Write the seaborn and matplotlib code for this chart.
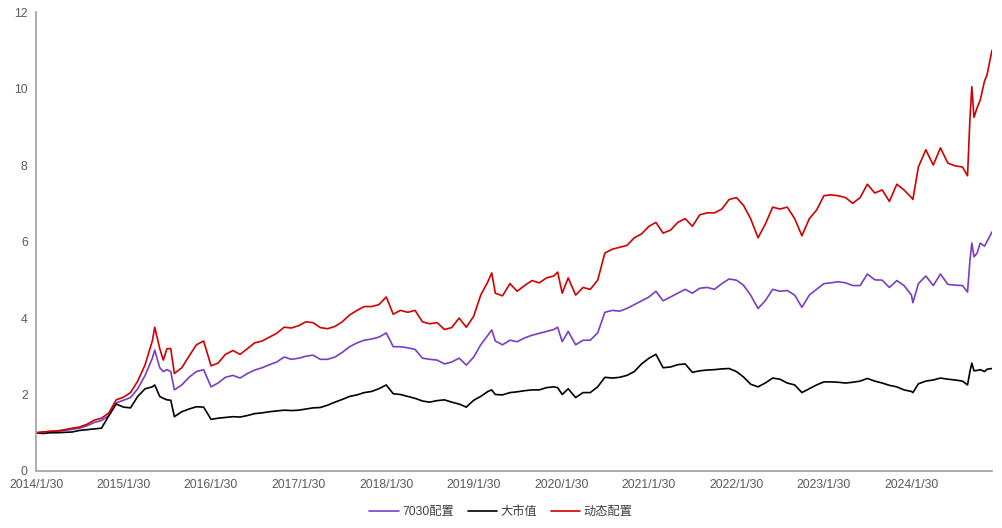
import pandas as pd
import matplotlib
matplotlib.use("Agg")
import matplotlib.pyplot as plt
import seaborn as sns

dates = [
    "2014-01-30", "2014-02-28", "2014-03-30", "2014-04-30", "2014-05-30", "2014-06-30",
    "2014-07-30", "2014-08-30", "2014-09-30", "2014-10-30", "2014-11-30", "2014-12-30",
    "2015-01-30", "2015-02-28", "2015-03-30", "2015-04-30", "2015-05-30", "2015-06-09",
    "2015-06-30", "2015-07-15", "2015-07-30", "2015-08-15", "2015-08-30", "2015-09-30",
    "2015-10-30", "2015-11-30", "2015-12-30",
    "2016-01-30", "2016-02-28", "2016-03-30", "2016-04-30", "2016-05-30", "2016-06-30",
    "2016-07-30", "2016-08-30", "2016-09-30", "2016-10-30", "2016-11-30", "2016-12-30",
    "2017-01-30", "2017-02-28", "2017-03-30", "2017-04-30", "2017-05-30", "2017-06-30",
    "2017-07-30", "2017-08-30", "2017-09-30", "2017-10-30", "2017-11-30", "2017-12-30",
    "2018-01-30", "2018-02-28", "2018-03-30", "2018-04-30", "2018-05-30", "2018-06-30",
    "2018-07-30", "2018-08-30", "2018-09-30", "2018-10-30", "2018-11-30", "2018-12-30",
    "2019-01-30", "2019-02-28", "2019-03-30", "2019-04-15", "2019-04-30", "2019-05-30",
    "2019-06-30", "2019-07-30", "2019-08-30", "2019-09-30", "2019-10-30", "2019-11-30",
    "2019-12-30",
    "2020-01-15", "2020-02-03", "2020-02-28", "2020-03-30", "2020-04-30", "2020-05-30",
    "2020-06-30", "2020-07-30", "2020-08-30", "2020-09-30", "2020-10-30", "2020-11-30",
    "2020-12-30",
    "2021-01-30", "2021-02-28", "2021-03-30", "2021-04-30", "2021-05-30", "2021-06-30",
    "2021-07-30", "2021-08-30", "2021-09-30", "2021-10-30", "2021-11-30", "2021-12-30",
    "2022-01-30", "2022-02-28", "2022-03-30", "2022-04-30", "2022-05-30", "2022-06-30",
    "2022-07-30", "2022-08-30", "2022-09-30", "2022-10-30", "2022-11-30", "2022-12-30",
    "2023-01-30", "2023-02-28", "2023-03-30", "2023-04-30", "2023-05-30", "2023-06-30",
    "2023-07-30", "2023-08-30", "2023-09-30", "2023-10-30", "2023-11-30", "2023-12-30",
    "2024-01-30", "2024-02-05", "2024-02-28", "2024-03-30", "2024-04-30", "2024-05-30",
    "2024-06-30", "2024-07-30", "2024-08-30", "2024-09-20", "2024-09-30", "2024-10-08",
    "2024-10-17", "2024-10-30", "2024-11-12", "2024-11-30", "2024-12-10", "2024-12-31",
]

dynamic = [
    1.00, 1.02, 1.04, 1.05, 1.08, 1.12, 1.15, 1.22, 1.33, 1.38, 1.52, 1.86,
    1.93, 2.05, 2.35, 2.78, 3.40, 3.76, 3.20, 2.90, 3.20, 3.20, 2.55, 2.70,
    3.00, 3.30, 3.40,
    2.75, 2.82, 3.05, 3.15, 3.05, 3.20, 3.35, 3.40, 3.50, 3.60, 3.76, 3.74,
    3.80, 3.90, 3.88, 3.75, 3.72, 3.78, 3.90, 4.08, 4.20, 4.30, 4.30, 4.35,
    4.55, 4.10, 4.20, 4.15, 4.20, 3.90, 3.85, 3.88, 3.70, 3.75, 4.00, 3.76,
    4.05, 4.60, 4.95, 5.18, 4.65, 4.58, 4.90, 4.70, 4.85, 4.98, 4.92, 5.05,
    5.10,
    5.20, 4.65, 5.05, 4.60, 4.80, 4.75, 4.99, 5.70, 5.80, 5.85, 5.90, 6.10,
    6.20,
    6.40, 6.50, 6.22, 6.30, 6.50, 6.60, 6.40, 6.70, 6.75, 6.75, 6.85, 7.10,
    7.15, 6.95, 6.60, 6.10, 6.45, 6.90, 6.85, 6.90, 6.60, 6.15, 6.60, 6.82,
    7.20, 7.22, 7.20, 7.15, 7.00, 7.15, 7.50, 7.27, 7.35, 7.05, 7.50, 7.35,
    7.15, 7.10, 7.95, 8.40, 8.00, 8.45, 8.05, 7.98, 7.95, 7.72, 9.20, 10.05,
    9.25, 9.50, 9.70, 10.20, 10.35, 11.00,
]

mix_7030 = [
    1.00, 1.02, 1.03, 1.04, 1.06, 1.09, 1.12, 1.18, 1.27, 1.32, 1.45, 1.78,
    1.85, 1.92, 2.15, 2.50, 2.95, 3.16, 2.70, 2.60, 2.65, 2.60, 2.12, 2.25,
    2.45, 2.60, 2.65,
    2.20, 2.30, 2.45, 2.50, 2.43, 2.55, 2.64, 2.70, 2.78, 2.85, 2.98, 2.92,
    2.95, 3.00, 3.03, 2.92, 2.92, 2.98, 3.10, 3.25, 3.35, 3.42, 3.45, 3.50,
    3.61, 3.25, 3.25, 3.22, 3.18, 2.95, 2.92, 2.90, 2.80, 2.85, 2.95, 2.77,
    2.98, 3.30, 3.55, 3.69, 3.40, 3.30, 3.42, 3.38, 3.48, 3.55, 3.60, 3.65,
    3.70,
    3.76, 3.38, 3.65, 3.30, 3.42, 3.42, 3.61, 4.15, 4.20, 4.18, 4.25, 4.35,
    4.45,
    4.55, 4.70, 4.45, 4.55, 4.65, 4.75, 4.65, 4.78, 4.80, 4.75, 4.90, 5.02,
    4.99, 4.86, 4.60, 4.25, 4.45, 4.75, 4.70, 4.72, 4.60, 4.28, 4.60, 4.75,
    4.90, 4.92, 4.95, 4.92, 4.85, 4.85, 5.15, 5.00, 4.99, 4.80, 4.98, 4.85,
    4.60, 4.40, 4.90, 5.10, 4.85, 5.15, 4.88, 4.86, 4.85, 4.68, 5.50, 5.96,
    5.60, 5.70, 5.96, 5.88, 6.00, 6.25,
]

large_cap = [
    1.00, 0.98, 1.00, 1.00, 1.01, 1.02, 1.06, 1.08, 1.10, 1.12, 1.45, 1.75,
    1.67, 1.65, 1.95, 2.15, 2.20, 2.25, 1.95, 1.90, 1.86, 1.85, 1.42, 1.55,
    1.62, 1.68, 1.67,
    1.35, 1.38, 1.40, 1.42, 1.41, 1.45, 1.50, 1.52, 1.55, 1.57, 1.59, 1.58,
    1.59, 1.62, 1.65, 1.66, 1.72, 1.80, 1.87, 1.95, 1.99, 2.05, 2.08, 2.15,
    2.25, 2.02, 2.00, 1.95, 1.90, 1.83, 1.80, 1.84, 1.86, 1.80, 1.75, 1.67,
    1.85, 1.95, 2.08, 2.12, 2.00, 1.99, 2.05, 2.07, 2.10, 2.12, 2.12, 2.18,
    2.20,
    2.18, 2.00, 2.15, 1.92, 2.05, 2.05, 2.20, 2.45, 2.43, 2.45, 2.50, 2.60,
    2.80,
    2.95, 3.05, 2.70, 2.72, 2.78, 2.80, 2.58, 2.62, 2.64, 2.65, 2.67, 2.68,
    2.60, 2.46, 2.27, 2.20, 2.30, 2.43, 2.40, 2.30, 2.25, 2.05, 2.15, 2.25,
    2.33, 2.33, 2.32, 2.30, 2.32, 2.35, 2.42, 2.35, 2.30, 2.24, 2.20, 2.12,
    2.08, 2.05, 2.28, 2.35, 2.38, 2.43, 2.40, 2.38, 2.35, 2.25, 2.60, 2.82,
    2.62, 2.63, 2.65, 2.60, 2.66, 2.68,
]

series_names = ["7030配置", "大市值", "动态配置"]
series_colors = ["#7A3DC2", "#000000", "#D00000"]
tick_labels = ["2014/1/30", "2015/1/30", "2016/1/30", "2017/1/30", "2018/1/30", "2019/1/30",
               "2020/1/30", "2021/1/30", "2022/1/30", "2023/1/30", "2024/1/30"]

df = pd.DataFrame({
    "date": pd.to_datetime(dates),
    "7030配置": mix_7030,
    "大市值": large_cap,
    "动态配置": dynamic,
})
long_df = df.melt(id_vars="date", var_name="series", value_name="value")

sns.set_style("white")
plt.rcParams["font.family"] = ["Liberation Sans", "Noto Sans CJK SC", "DejaVu Sans"]

fig = plt.figure(figsize=(10.02, 5.28), dpi=100)
ax = fig.add_axes([0.036, 0.108, 0.954, 0.869])

sns.lineplot(data=long_df, x="date", y="value", hue="series", hue_order=series_names,
             palette=series_colors, linewidth=1.2, ax=ax)

ax.set_ylim(0, 12)
ax.set_yticks(range(0, 13, 2))
ax.set_xlim(pd.Timestamp("2014-01-30"), pd.Timestamp("2024-12-31"))
ax.set_xticks(pd.to_datetime(tick_labels, format="%Y/%m/%d"))
ax.set_xticklabels(tick_labels)
ax.set_xlabel("")
ax.set_ylabel("")

for side in ["top", "right"]:
    ax.spines[side].set_visible(False)
for side in ["left", "bottom"]:
    ax.spines[side].set_color("#A6A6A6")
    ax.spines[side].set_linewidth(1.3)

ax.tick_params(axis="y", direction="out", length=3, color="#808080", labelsize=8.8,
               labelcolor="#595959", pad=3)
ax.tick_params(axis="x", direction="in", length=4, color="#808080", labelsize=8.8,
               labelcolor="#595959", pad=6)

ax.legend_.remove()
handles, labels = ax.get_legend_handles_labels()
fig.legend(handles, labels, loc="center", bbox_to_anchor=(0.5, 0.03), ncol=3,
           frameon=False, fontsize=8.8, handlelength=2.4, columnspacing=1.1,
           handletextpad=0.3, labelcolor="#404040")

fig.savefig("out.png", dpi=100)
